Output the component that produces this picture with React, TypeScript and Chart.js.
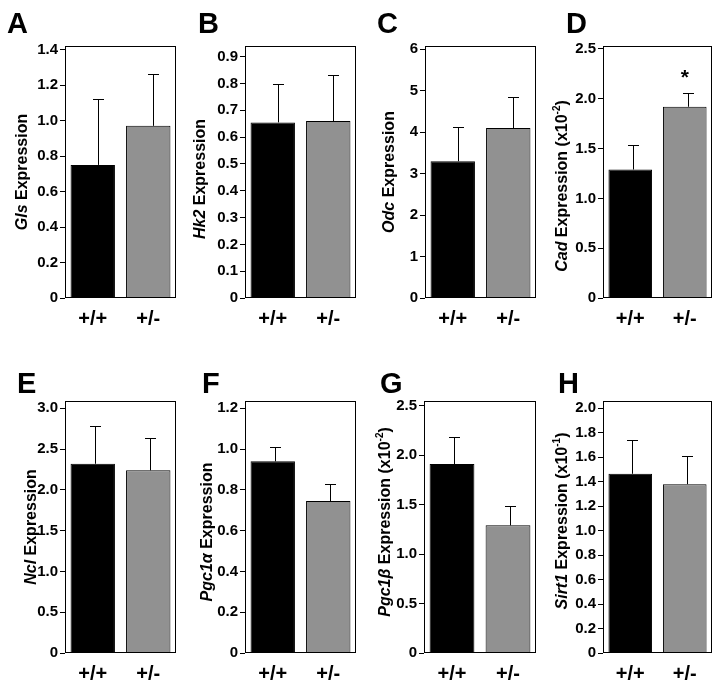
import React, { useEffect, useRef } from 'react';
import { Chart, registerables } from 'chart.js';

Chart.register(...registerables);

// ---------- data ----------
const GROUPS = ['+/+', '+/-'];
const PANEL_LETTERS = ['A', 'B', 'C', 'D', 'E', 'F', 'G', 'H'];
const GENES = ['Gls', 'Hk2', 'Odc', 'Cad', 'Ncl', 'Pgc1α', 'Pgc1β', 'Sirt1'];
const SCALE_EXP = ['', '', '', '-2', '', '', '-2', '-1'];

const GLS_MEAN = [0.75, 0.97];
const GLS_SEM = [0.37, 0.29];
const HK2_MEAN = [0.655, 0.66];
const HK2_SEM = [0.145, 0.17];
const ODC_MEAN = [3.3, 4.1];
const ODC_SEM = [0.82, 0.74];
const CAD_MEAN = [1.29, 1.92];
const CAD_SEM = [0.25, 0.135];
const NCL_MEAN = [2.32, 2.24];
const NCL_SEM = [0.46, 0.4];
const PGC1A_MEAN = [0.94, 0.745];
const PGC1A_SEM = [0.07, 0.085];
const PGC1B_MEAN = [1.91, 1.29];
const PGC1B_SEM = [0.27, 0.2];
const SIRT1_MEAN = [1.465, 1.38];
const SIRT1_SEM = [0.28, 0.23];

const MEANS = [GLS_MEAN, HK2_MEAN, ODC_MEAN, CAD_MEAN, NCL_MEAN, PGC1A_MEAN, PGC1B_MEAN, SIRT1_MEAN];
const SEMS = [GLS_SEM, HK2_SEM, ODC_SEM, CAD_SEM, NCL_SEM, PGC1A_SEM, PGC1B_SEM, SIRT1_SEM];

const Y_MAX = [1.42, 0.94, 6.08, 2.53, 3.09, 1.236, 2.547, 2.06];
const Y_STEP = [0.2, 0.1, 1, 0.5, 0.5, 0.2, 0.5, 0.2];
const Y_DECIMALS = [1, 1, 0, 1, 1, 1, 1, 1];
const SIGNIF = [['', ''], ['', ''], ['', ''], ['', '*'], ['', ''], ['', ''], ['', ''], ['', '']];

// ---------- layout / style ----------
const FONT = '"Liberation Sans", Arial, sans-serif';
const BAR_COLORS = ['#000000', '#919191'];
const ROWS = [
  { top: 0, height: 340, plotTop: 46, plotBottom: 298, letterY: 33 },
  { top: 340, height: 345, plotTop: 401, plotBottom: 653, letterY: 393 },
];
const LAYOUT = [
  { row: 0, boxLeft: 65, w: 111, titleDx: -42, titleDy: 0, letterX: 7, errDx: 5 },
  { row: 0, boxLeft: 245, w: 111, titleDx: -44, titleDy: 7, letterX: 198, errDx: 5 },
  { row: 0, boxLeft: 425, w: 111, titleDx: -35, titleDy: 0, letterX: 377, errDx: 5 },
  { row: 0, boxLeft: 603, w: 109, titleDx: -40, titleDy: 14, letterX: 566, errDx: 3 },
  { row: 1, boxLeft: 65, w: 111, titleDx: -33, titleDy: 0, letterX: 17, errDx: 2 },
  { row: 1, boxLeft: 245, w: 111, titleDx: -37, titleDy: 5, letterX: 202, errDx: 2 },
  { row: 1, boxLeft: 424, w: 112, titleDx: -38, titleDy: -5, letterX: 380, errDx: 2 },
  { row: 1, boxLeft: 603, w: 109, titleDx: -40, titleDy: -6, letterX: 558, errDx: 2 },
];
const AXIS_W = 65;

function Panel({ idx }: { idx: number }) {
  const ref = useRef<HTMLCanvasElement | null>(null);
  const L = LAYOUT[idx];
  const R = ROWS[L.row];
  const cLeft = L.boxLeft - AXIS_W;
  const cW = AXIS_W + L.w + 4;
  const cH = R.height;

  useEffect(() => {
    if (!ref.current) return;
    const plugin = {
      id: 'panelDecor' + idx,
      afterDatasetsDraw(chart: any) {
        const ctx = chart.ctx;
        const y = chart.scales.y;
        const meta = chart.getDatasetMeta(0);
        ctx.save();
        ctx.strokeStyle = '#000';
        ctx.lineWidth = 1;
        meta.data.forEach((bar: any, i: number) => {
          const x = Math.round(bar.x + L.errDx);
          const yTop = Math.round(y.getPixelForValue(MEANS[idx][i] + SEMS[idx][i]));
          ctx.beginPath();
          ctx.moveTo(x + 0.5, bar.y);
          ctx.lineTo(x + 0.5, yTop + 0.5);
          ctx.moveTo(x - 5, yTop + 0.5);
          ctx.lineTo(x + 6, yTop + 0.5);
          ctx.stroke();
          const s = SIGNIF[idx][i];
          if (s) {
            ctx.font = 'bold 21px ' + FONT;
            ctx.fillStyle = '#000';
            ctx.textAlign = 'center';
            ctx.textBaseline = 'alphabetic';
            const m = ctx.measureText(s);
            const c = yTop - 19;
            ctx.fillText(s, bar.x, c + (m.actualBoundingBoxAscent - m.actualBoundingBoxDescent) / 2);
          }
        });
        const a = chart.chartArea;
        ctx.strokeRect(
          Math.round(a.left) + 0.5,
          Math.round(a.top) + 0.5,
          Math.round(a.right - a.left) - 1,
          Math.round(a.bottom - a.top) - 1
        );
        ctx.restore();
      },
      afterDraw(chart: any) {
        const ctx = chart.ctx;
        const a = chart.chartArea;
        ctx.save();
        ctx.fillStyle = '#000';
        // y-axis title with mixed fonts
        const segs: { t: string; font: string; sup?: boolean }[] = [
          { t: GENES[idx], font: 'italic bold 16px ' + FONT },
          { t: ' Expression', font: 'bold 16px ' + FONT },
        ];
        if (SCALE_EXP[idx]) {
          segs.push({ t: ' (x10', font: 'bold 16px ' + FONT });
          segs.push({ t: SCALE_EXP[idx], font: 'bold 10px ' + FONT, sup: true });
          segs.push({ t: ')', font: 'bold 16px ' + FONT });
        }
        let total = 0;
        segs.forEach((s) => {
          ctx.font = s.font;
          total += ctx.measureText(s.t).width;
        });
        ctx.translate(a.left + L.titleDx, (a.top + a.bottom) / 2 + L.titleDy);
        ctx.rotate(-Math.PI / 2);
        ctx.textBaseline = 'middle';
        ctx.textAlign = 'left';
        let x = -total / 2;
        segs.forEach((s) => {
          ctx.font = s.font;
          ctx.fillText(s.t, x, s.sup ? -6 : 0);
          x += ctx.measureText(s.t).width;
        });
        ctx.restore();
        // panel letter
        ctx.save();
        ctx.fillStyle = '#000';
        ctx.font = 'bold 29px ' + FONT;
        ctx.textAlign = 'left';
        ctx.textBaseline = 'alphabetic';
        ctx.fillText(PANEL_LETTERS[idx], L.letterX - cLeft, R.letterY - R.top);
        ctx.restore();
      },
    };

    const chart = new Chart(ref.current, {
      type: 'bar',
      data: {
        labels: GROUPS,
        datasets: [
          {
            data: MEANS[idx],
            backgroundColor: BAR_COLORS,
            borderColor: '#000',
            borderWidth: 1,
            barPercentage: 0.8,
            categoryPercentage: 1,
          },
        ],
      },
      options: {
        responsive: false,
        animation: false,
        devicePixelRatio: 1,
        layout: { padding: { left: 0, right: cW - AXIS_W - L.w, top: R.plotTop - R.top, bottom: 0 } },
        plugins: { legend: { display: false }, tooltip: { enabled: false }, title: { display: false } },
        scales: {
          x: {
            grid: { display: false, drawTicks: false },
            border: { display: false },
            ticks: { color: '#000', padding: 9, font: { family: FONT, size: 20, weight: 'bold' } },
            afterFit: (s: any) => {
              s.height = cH - (R.plotBottom - R.top);
            },
          },
          y: {
            min: 0,
            max: Y_MAX[idx],
            grid: { display: true, drawOnChartArea: false, drawTicks: true, tickLength: 5, color: '#000' },
            border: { display: false },
            ticks: {
              stepSize: Y_STEP[idx],
              includeBounds: false,
              color: '#000',
              padding: 2,
              font: { family: FONT, size: 15, weight: 'bold' },
              callback: (v: any) => (Math.abs(Number(v)) < 1e-9 ? '0' : Number(v).toFixed(Y_DECIMALS[idx])),
            },
            afterFit: (s: any) => {
              s.width = AXIS_W;
            },
          },
        },
      } as any,
      plugins: [plugin],
    });
    return () => chart.destroy();
  }, []);

  return (
    <canvas
      ref={ref}
      width={cW}
      height={cH}
      style={{ position: 'absolute', left: cLeft, top: R.top, width: cW, height: cH }}
    />
  );
}

export default function App() {
  return (
    <div
      style={{
        position: 'absolute',
        left: 0,
        top: 0,
        width: 716,
        height: 685,
        overflow: 'hidden',
        background: '#fff',
      }}
    >
      {LAYOUT.map((_, i) => (
        <Panel key={i} idx={i} />
      ))}
    </div>
  );
}
